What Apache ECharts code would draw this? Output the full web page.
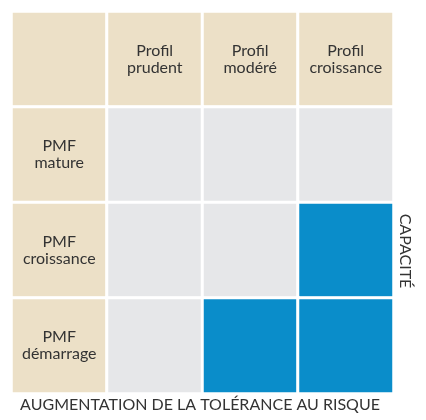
<!DOCTYPE html>
<html><head><meta charset="utf-8">
<script src="https://cdn.jsdelivr.net/npm/echarts@6/dist/echarts.min.js"></script>
<style>html,body{margin:0;padding:0;background:#fff}#c{width:426px;height:420px}</style>
</head><body><div id="c"></div>
<script>
const profiles = ['Profil\nprudent', 'Profil\nmodéré', 'Profil\ncroissance'];
const stages = ['PMF\nmature', 'PMF\ncroissance', 'PMF\ndémarrage'];
// 1 = recommended (blue), 0 = not (grey); rows follow stages, columns follow profiles
const suitability = [
  [0, 0, 0],
  [0, 0, 1],
  [0, 1, 1]
];
const xTitle = 'AUGMENTATION DE LA TOLÉRANCE AU RISQUE';
const yTitle = 'CAPACITÉ';

const xCats = [''].concat(profiles);
const yCats = [''].concat(stages);
const data = [];
// header cells: value -1
for (let c = 0; c < xCats.length; c++) data.push([c, 0, -1]);
for (let r = 1; r < yCats.length; r++) data.push([0, r, -1]);
for (let r = 0; r < stages.length; r++)
  for (let c = 0; c < profiles.length; c++)
    data.push([c + 1, r + 1, suitability[r][c]]);

const font = 'Lato, "Open Sans", sans-serif';
const chart = echarts.init(document.getElementById('c'), null, {renderer: 'canvas'});
chart.setOption({
  animation: false,
  backgroundColor: '#ffffff',
  grid: {left: 11.5, top: 11.5, width: 382, height: 382},
  xAxis: {type: 'category', data: xCats, show: false},
  yAxis: {type: 'category', data: yCats, inverse: true, show: false},
  visualMap: {
    show: false, type: 'piecewise', dimension: 2,
    pieces: [
      {value: -1, color: '#ece0c7'},
      {value: 0, color: '#e6e7e9'},
      {value: 1, color: '#0a8dca'}
    ]
  },
  series: [{
    type: 'heatmap',
    data: data,
    itemStyle: {borderColor: '#ffffff', borderWidth: 3},
    label: {
      show: true,
      color: '#333333',
      fontFamily: font,
      fontSize: 16,
      lineHeight: 17,
      formatter: function (p) {
        const c = p.data[0], r = p.data[1];
        if (r === 0) return xCats[c];
        if (c === 0) return yCats[r];
        return '';
      }
    }
  }],
  graphic: [
    {type: 'text', x: 200, y: 405,
     style: {text: xTitle, fontFamily: font, fontSize: 16, fill: '#333333', align: 'center', verticalAlign: 'middle'}},
    {type: 'text', x: 405.5, y: 251, rotation: -Math.PI / 2,
     style: {text: yTitle, fontFamily: font, fontSize: 16, fill: '#333333', align: 'center', verticalAlign: 'middle'}}
  ]
});
</script></body></html>
